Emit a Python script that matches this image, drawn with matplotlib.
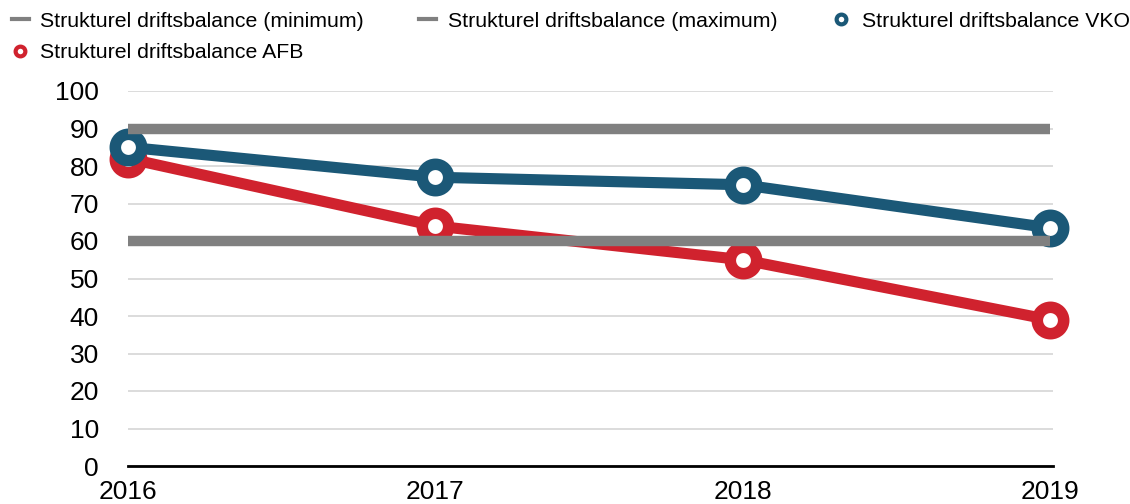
import matplotlib
matplotlib.use("Agg")
import matplotlib.pyplot as plt
from matplotlib.lines import Line2D

# data
years = ["2016", "2017", "2018", "2019"]
afb = [82, 64, 55, 39]
vko = [85, 77, 75, 63.5]
minimum = [60, 60, 60, 60]
maximum = [90, 90, 90, 90]
yticks = [0, 10, 20, 30, 40, 50, 60, 70, 80, 90, 100]

red = "#d0222e"
blue = "#1b5877"
grey = "#808080"

plt.rcParams["font.family"] = ["Liberation Sans", "DejaVu Sans"]

fig = plt.figure(figsize=(11.3, 5.04), dpi=100)
ax = fig.add_axes([128 / 1130, 38 / 504, 925 / 1130, 375 / 504])

x = list(range(len(years)))
ax.plot(x, afb, color=red, lw=8, marker="o", ms=19, mew=8.3,
        mfc="white", mec=red, clip_on=False, zorder=3)
ax.plot(x, vko, color=blue, lw=8, marker="o", ms=19, mew=8.3,
        mfc="white", mec=blue, clip_on=False, zorder=4)
ax.plot(x, minimum, color=grey, lw=7.5, solid_capstyle="butt", clip_on=False, zorder=5)
ax.plot(x, maximum, color=grey, lw=7.5, solid_capstyle="butt", clip_on=False, zorder=5)

ax.set_xlim(0, 3.01)
ax.set_ylim(0, 100)
ax.set_yticks(yticks)
ax.set_xticks(x)
ax.set_xticklabels(years)
ax.grid(axis="y", color="#d6d6d6", lw=1.2)
ax.set_axisbelow(True)
for s in ["top", "right", "left"]:
    ax.spines[s].set_visible(False)
ax.spines["bottom"].set_color("black")
ax.spines["bottom"].set_linewidth(2)
ax.spines["bottom"].set_zorder(2)
ax.tick_params(axis="y", length=0, pad=21, labelsize=19)
ax.tick_params(axis="x", length=0, pad=10, labelsize=19)

handles = [
    Line2D([], [], color=grey, lw=3),
    Line2D([], [], color=red, lw=0, marker="o", ms=7, mew=3, mfc="white", mec=red),
    Line2D([], [], color=grey, lw=3),
    Line2D([], [], color=blue, lw=0, marker="o", ms=7, mew=3, mfc="white", mec=blue),
]
labels = [
    "Strukturel driftsbalance (minimum)",
    "Strukturel driftsbalance AFB",
    "Strukturel driftsbalance (maximum)",
    "Strukturel driftsbalance VKO",
]
fig.legend(handles, labels, ncol=3, loc="upper left", bbox_to_anchor=(0.0, 1.0),
           frameon=False, fontsize=15.3, handlelength=0.8, handletextpad=0.55,
           columnspacing=2.6, labelspacing=0.6, borderaxespad=0.15)

fig.savefig("out.png", dpi=100)
